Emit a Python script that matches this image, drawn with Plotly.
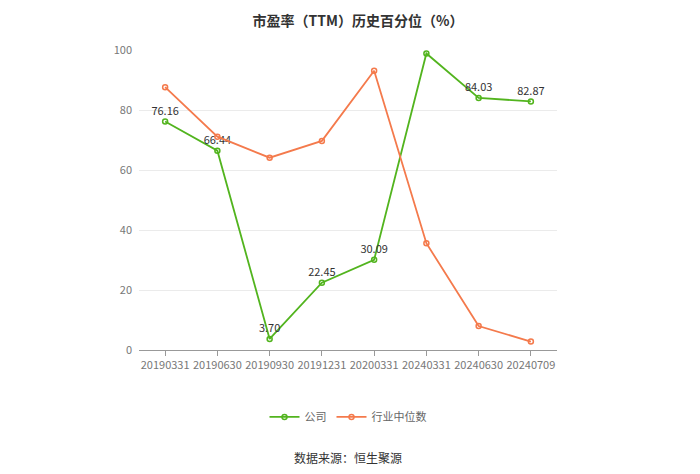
import plotly.graph_objects as go

# 市盈率（TTM）历史百分位
dates = ["20190331", "20190630", "20190930", "20191231", "20200331", "20240331", "20240630", "20240709"]
company = [76.16, 66.44, 3.70, 22.45, 30.09, 98.84, 84.03, 82.87]
industry = [87.6, 71.1, 64.1, 69.7, 93.1, 35.6, 8.0, 2.8]

GREEN = "#52b41e"
ORANGE = "#f47a4c"
FONT = "Noto Sans CJK SC"

fig = go.Figure()
fig.add_trace(go.Scatter(
    x=dates, y=company, name="公司", mode="lines+markers+text",
    line=dict(color=GREEN, width=1.8),
    marker=dict(symbol="circle-open", size=5, color=GREEN, line=dict(width=1.5)),
    text=["%.2f" % v for v in company], textposition="top center",
    textfont=dict(size=11, color="#333333"),
))
fig.add_trace(go.Scatter(
    x=dates, y=industry, name="行业中位数", mode="lines+markers",
    line=dict(color=ORANGE, width=1.8),
    marker=dict(symbol="circle-open", size=5, color=ORANGE, line=dict(width=1.5)),
))

fig.update_layout(
    width=700, height=474,
    margin=dict(l=131, r=151, t=42, b=132),
    paper_bgcolor="white", plot_bgcolor="white",
    font=dict(family=FONT, size=11, color="#666666"),
    title=dict(text="<b>市盈率（TTM）历史百分位（%）</b>", x=0.5, xanchor="center",
               y=0.982, yanchor="top", pad=dict(t=0), font=dict(size=14, color="#333333")),
    xaxis=dict(type="category", showgrid=False, showline=True, linecolor="#999999",
               ticks="outside", ticklen=5, tickcolor="#999999",
               tickfont=dict(size=11, color="#777777"), range=[-0.5, 7.5]),
    yaxis=dict(range=[0, 100], dtick=20, showgrid=True, gridcolor="#ebebeb",
               zeroline=False, showline=False, ticks="", ticklabelstandoff=6,
               tickfont=dict(size=11, color="#777777")),
    legend=dict(orientation="h", x=0.5, xanchor="center", y=-0.223, yanchor="middle",
                font=dict(size=11, color="#666666"), itemwidth=30),
    showlegend=True,
)
fig.add_annotation(text="数据来源：恒生聚源", xref="paper", yref="paper",
                   x=0.5, y=-0.357, xanchor="center", yanchor="middle", showarrow=False,
                   font=dict(size=12, color="#333333"))

fig.write_html("out.html")
